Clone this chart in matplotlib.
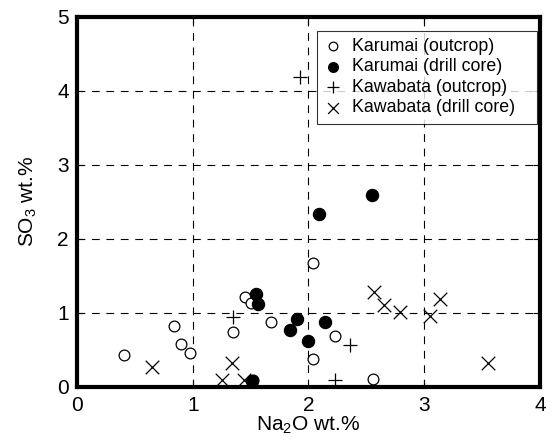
import matplotlib
matplotlib.use('Agg')
import matplotlib.pyplot as plt

plt.rcParams['font.family'] = ['Liberation Sans', 'DejaVu Sans']
plt.rcParams['mathtext.default'] = 'regular'

# Karumai (outcrop)
kar_out_x = [0.41, 0.84, 0.90, 0.98, 1.35, 1.45, 1.50, 1.68, 2.04, 2.04, 1.52, 2.23, 2.56]
kar_out_y = [0.43, 0.82, 0.58, 0.45, 0.74, 1.21, 1.13, 0.87, 1.67, 0.37, 0.09, 0.68, 0.10]
# Karumai (drill core)
kar_dc_x = [1.55, 1.56, 1.90, 1.84, 2.00, 1.51, 2.09, 2.55, 2.14]
kar_dc_y = [1.25, 1.12, 0.91, 0.76, 0.62, 0.08, 2.34, 2.59, 0.88]
# Kawabata (outcrop)
kaw_out_x = [1.93, 1.35, 2.36, 2.23]
kaw_out_y = [4.18, 0.94, 0.56, 0.09]
# Kawabata (drill core)
kaw_dc_x = [0.65, 1.34, 1.25, 1.44, 2.57, 2.65, 2.79, 3.05, 3.14, 3.55]
kaw_dc_y = [0.27, 0.32, 0.09, 0.09, 1.28, 1.11, 1.01, 0.95, 1.19, 0.32]

fig = plt.figure(figsize=(5.52, 4.45), dpi=100)
ax = fig.add_axes([0.1395, 0.131, 0.8385, 0.8315])

ax.scatter(kar_out_x, kar_out_y, s=60, facecolors='white', edgecolors='black', linewidths=0.9,
           label='Karumai (outcrop)', zorder=3)
ax.scatter(kar_dc_x, kar_dc_y, s=75, color='black', label='Karumai (drill core)', zorder=4)
ax.scatter(kaw_out_x, kaw_out_y, s=110, marker='+', color='black', linewidths=0.9,
           label='Kawabata (outcrop)', zorder=3)
ax.scatter(kaw_dc_x, kaw_dc_y, s=95, marker='x', color='black', linewidths=0.9,
           label='Kawabata (drill core)', zorder=3)

ax.set_xlim(0, 4)
ax.set_ylim(0, 5)
ax.set_xticks([0, 1, 2, 3, 4])
ax.set_yticks([0, 1, 2, 3, 4, 5])
ax.grid(True, color='black', linestyle=(0, (7, 6)), linewidth=0.8)
ax.tick_params(direction='in', top=True, right=True, length=5, width=0.8, labelsize=15)
ax.tick_params(axis='x', pad=7)
ax.tick_params(axis='y', pad=6)
for sp in ax.spines.values():
    sp.set_linewidth(3)

ax.set_xlabel('Na$_2$O wt.%', fontsize=15)
ax.set_ylabel('SO$_3$ wt.%', fontsize=15)
ax.xaxis.set_label_coords(0.5, -0.076)
ax.yaxis.set_label_coords(-0.082, 0.5)

leg = ax.legend(loc='upper left', bbox_to_anchor=(0.518, 0.5, 0.475, 0.462), mode='expand',
                fontsize=12.75, frameon=True, fancybox=False, edgecolor='black',
                handletextpad=0.6, borderpad=0.4, labelspacing=0.2, handlelength=1.0,
                borderaxespad=0, markerscale=0.8)
leg.get_frame().set_linewidth(0.8)

fig.savefig('out.png', dpi=100)
